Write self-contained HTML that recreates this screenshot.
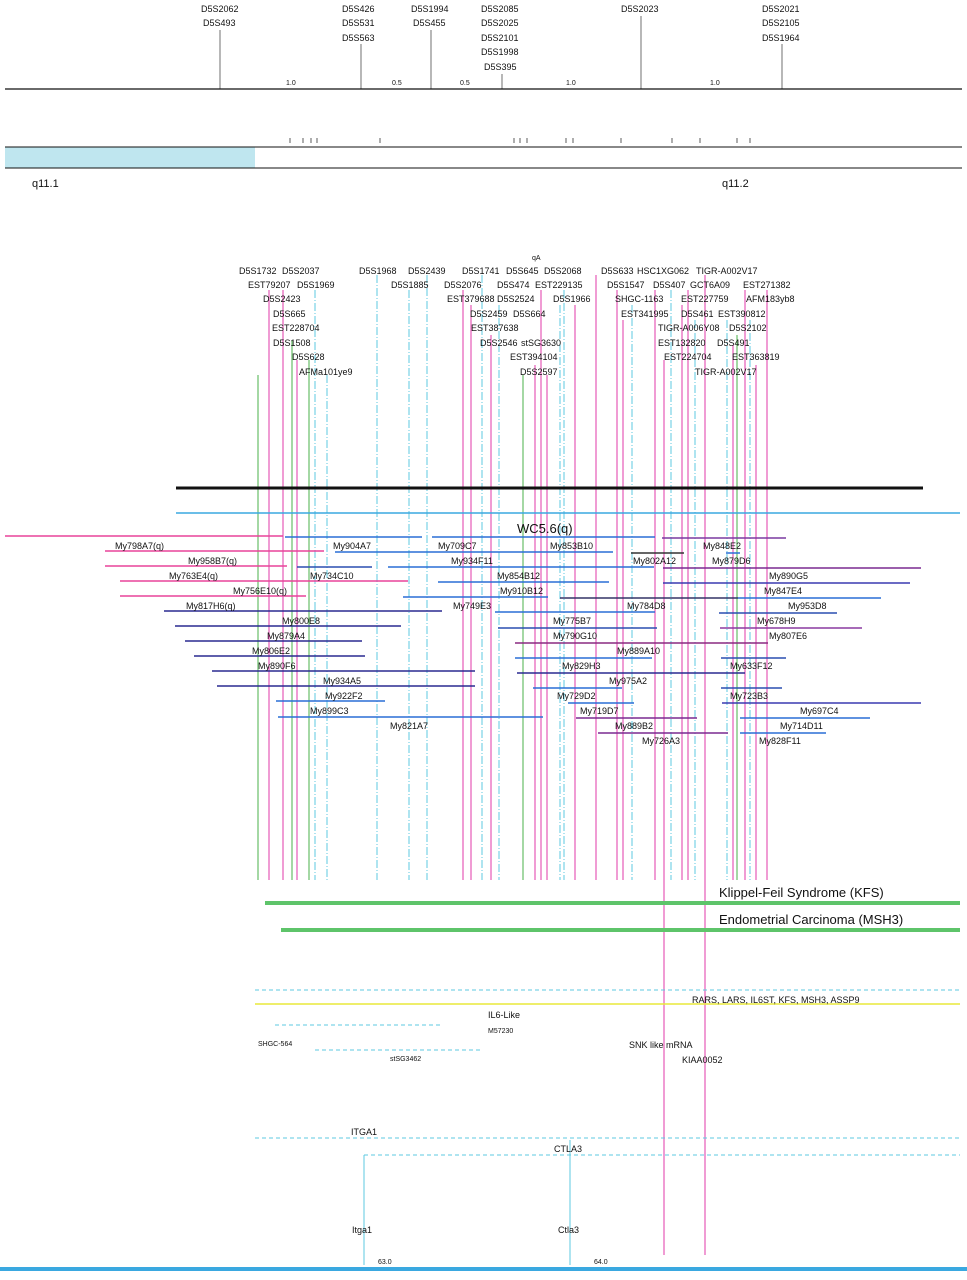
<!DOCTYPE html>
<html><head><meta charset="utf-8"><style>
html,body{margin:0;padding:0;background:#fff;width:967px;height:1280px;overflow:hidden}
svg{display:block}
text{font-family:"Liberation Sans",sans-serif;font-size:9px;fill:#111}
.s{font-size:7px}
.b{font-size:13px}
</style></head><body>
<svg width="967" height="1280" viewBox="0 0 967 1280">
<!-- top map -->
<g>
<text x="201" y="12">D5S2062</text><text x="203" y="26">D5S493</text>
<text x="342" y="12">D5S426</text><text x="342" y="26">D5S531</text><text x="342" y="41">D5S563</text>
<text x="411" y="12">D5S1994</text><text x="413" y="26">D5S455</text>
<text x="481" y="12">D5S2085</text><text x="481" y="26">D5S2025</text><text x="481" y="41">D5S2101</text><text x="481" y="55">D5S1998</text><text x="484" y="70">D5S395</text>
<text x="621" y="12">D5S2023</text>
<text x="762" y="12">D5S2021</text><text x="762" y="26">D5S2105</text><text x="762" y="41">D5S1964</text>
<g stroke="#333" stroke-width="0.7">
<line x1="220" y1="30" x2="220" y2="89"/><line x1="361" y1="44" x2="361" y2="89"/><line x1="431" y1="30" x2="431" y2="89"/><line x1="502" y1="74" x2="502" y2="89"/><line x1="641" y1="16" x2="641" y2="89"/><line x1="782" y1="44" x2="782" y2="89"/>
</g>
<text class="s" x="286" y="85">1.0</text><text class="s" x="392" y="85">0.5</text><text class="s" x="460" y="85">0.5</text><text class="s" x="566" y="85">1.0</text><text class="s" x="710" y="85">1.0</text>
<line x1="5" y1="89" x2="962" y2="89" stroke="#111" stroke-width="1.2"/>
<rect x="5" y="147" width="250" height="21" fill="#bfe6ef"/>
<line x1="5" y1="147" x2="962" y2="147" stroke="#111" stroke-width="1"/>
<line x1="5" y1="168" x2="962" y2="168" stroke="#111" stroke-width="1"/>
<g stroke="#333" stroke-width="0.8">
<line x1="290" y1="138" x2="290" y2="143"/><line x1="303" y1="138" x2="303" y2="143"/><line x1="311" y1="138" x2="311" y2="143"/><line x1="317" y1="138" x2="317" y2="143"/><line x1="380" y1="138" x2="380" y2="143"/><line x1="514" y1="138" x2="514" y2="143"/><line x1="520" y1="138" x2="520" y2="143"/><line x1="527" y1="138" x2="527" y2="143"/><line x1="566" y1="138" x2="566" y2="143"/><line x1="573" y1="138" x2="573" y2="143"/><line x1="621" y1="138" x2="621" y2="143"/><line x1="672" y1="138" x2="672" y2="143"/><line x1="700" y1="138" x2="700" y2="143"/><line x1="737" y1="138" x2="737" y2="143"/><line x1="750" y1="138" x2="750" y2="143"/>
</g>
<text x="32" y="187" style="font-size:11px">q11.1</text>
<text x="722" y="187" style="font-size:11px">q11.2</text>
</g>

<!-- vertical marker lines -->
<g stroke-width="1">
<line x1="258" y1="375" x2="258" y2="880" stroke="#49b04a"/>
<line x1="269" y1="290" x2="269" y2="880" stroke="#e03aa8"/>
<line x1="283" y1="290" x2="283" y2="880" stroke="#e03aa8"/>
<line x1="292" y1="340" x2="292" y2="880" stroke="#49b04a"/>
<line x1="297" y1="360" x2="297" y2="880" stroke="#e03aa8"/>
<line x1="309" y1="360" x2="309" y2="880" stroke="#49b04a"/>
<line x1="315" y1="290" x2="315" y2="880" stroke="#5cc8e0" stroke-dasharray="8 2 1 2"/>
<line x1="327" y1="375" x2="327" y2="880" stroke="#5cc8e0" stroke-dasharray="8 2 1 2"/>
<line x1="377" y1="275" x2="377" y2="880" stroke="#5cc8e0" stroke-dasharray="8 2 1 2"/>
<line x1="409" y1="290" x2="409" y2="880" stroke="#5cc8e0" stroke-dasharray="8 2 1 2"/>
<line x1="427" y1="275" x2="427" y2="880" stroke="#5cc8e0" stroke-dasharray="8 2 1 2"/>
<line x1="463" y1="290" x2="463" y2="880" stroke="#e03aa8"/>
<line x1="471" y1="305" x2="471" y2="880" stroke="#e03aa8"/>
<line x1="482" y1="275" x2="482" y2="880" stroke="#5cc8e0" stroke-dasharray="8 2 1 2"/>
<line x1="491" y1="335" x2="491" y2="880" stroke="#e03aa8"/>
<line x1="499" y1="305" x2="499" y2="880" stroke="#5cc8e0" stroke-dasharray="8 2 1 2"/>
<line x1="523" y1="375" x2="523" y2="880" stroke="#49b04a"/>
<line x1="535" y1="365" x2="535" y2="880" stroke="#e03aa8"/>
<line x1="541" y1="290" x2="541" y2="880" stroke="#e03aa8"/>
<line x1="547" y1="375" x2="547" y2="880" stroke="#e03aa8"/>
<line x1="560" y1="305" x2="560" y2="880" stroke="#5cc8e0" stroke-dasharray="8 2 1 2"/>
<line x1="564" y1="290" x2="564" y2="880" stroke="#5cc8e0" stroke-dasharray="8 2 1 2"/>
<line x1="575" y1="305" x2="575" y2="880" stroke="#e03aa8"/>
<line x1="596" y1="275" x2="596" y2="880" stroke="#e03aa8"/>
<line x1="617" y1="290" x2="617" y2="880" stroke="#e03aa8"/>
<line x1="623" y1="320" x2="623" y2="880" stroke="#e03aa8"/>
<line x1="632" y1="305" x2="632" y2="880" stroke="#5cc8e0" stroke-dasharray="8 2 1 2"/>
<line x1="655" y1="290" x2="655" y2="880" stroke="#e03aa8"/>
<line x1="664" y1="360" x2="664" y2="1255" stroke="#e03aa8"/>
<line x1="671" y1="290" x2="671" y2="880" stroke="#5cc8e0" stroke-dasharray="8 2 1 2"/>
<line x1="682" y1="305" x2="682" y2="880" stroke="#e03aa8"/>
<line x1="688" y1="290" x2="688" y2="880" stroke="#e03aa8"/>
<line x1="695" y1="320" x2="695" y2="880" stroke="#5cc8e0" stroke-dasharray="8 2 1 2"/>
<line x1="705" y1="275" x2="705" y2="1255" stroke="#e03aa8"/>
<line x1="727" y1="320" x2="727" y2="880" stroke="#5cc8e0" stroke-dasharray="8 2 1 2"/>
<line x1="733" y1="345" x2="733" y2="880" stroke="#e03aa8"/>
<line x1="737" y1="335" x2="737" y2="880" stroke="#49b04a"/>
<line x1="745" y1="290" x2="745" y2="880" stroke="#e03aa8"/>
<line x1="750" y1="320" x2="750" y2="880" stroke="#5cc8e0" stroke-dasharray="8 2 1 2"/>
<line x1="756" y1="365" x2="756" y2="880" stroke="#e03aa8"/>
<line x1="767" y1="290" x2="767" y2="880" stroke="#e03aa8"/>
</g>

<!-- marker labels -->
<g>
<text class="s" x="532" y="260">qA</text>
<text x="239" y="274">D5S1732</text><text x="282" y="274">D5S2037</text><text x="359" y="274">D5S1968</text><text x="408" y="274">D5S2439</text><text x="462" y="274">D5S1741</text><text x="506" y="274">D5S645</text><text x="544" y="274">D5S2068</text><text x="601" y="274">D5S633</text><text x="637" y="274">HSC1XG062</text><text x="696" y="274">TIGR-A002V17</text>
<text x="248" y="288">EST79207</text><text x="297" y="288">D5S1969</text><text x="391" y="288">D5S1885</text><text x="444" y="288">D5S2076</text><text x="497" y="288">D5S474</text><text x="535" y="288">EST229135</text><text x="607" y="288">D5S1547</text><text x="653" y="288">D5S407</text><text x="690" y="288">GCT6A09</text><text x="743" y="288">EST271382</text>
<text x="263" y="302">D5S2423</text><text x="447" y="302">EST379688</text><text x="497" y="302">D5S2524</text><text x="553" y="302">D5S1966</text><text x="615" y="302">SHGC-1163</text><text x="681" y="302">EST227759</text><text x="746" y="302">AFM183yb8</text>
<text x="273" y="317">D5S665</text><text x="470" y="317">D5S2459</text><text x="513" y="317">D5S664</text><text x="621" y="317">EST341995</text><text x="681" y="317">D5S461</text><text x="718" y="317">EST390812</text>
<text x="272" y="331">EST228704</text><text x="471" y="331">EST387638</text><text x="658" y="331">TIGR-A006Y08</text><text x="729" y="331">D5S2102</text>
<text x="273" y="346">D5S1508</text><text x="480" y="346">D5S2546</text><text x="521" y="346">stSG3630</text><text x="658" y="346">EST132820</text><text x="717" y="346">D5S491</text>
<text x="292" y="360">D5S628</text><text x="510" y="360">EST394104</text><text x="664" y="360">EST224704</text><text x="732" y="360">EST363819</text>
<text x="299" y="375">AFMa101ye9</text><text x="520" y="375">D5S2597</text><text x="695" y="375">TIGR-A002V17</text>
</g>

<line x1="176" y1="488" x2="923" y2="488" stroke="#111" stroke-width="3"/>
<line x1="176" y1="513" x2="960" y2="513" stroke="#3aa8e0" stroke-width="1.5"/>

<!-- clone bars -->
<g stroke-width="1.5">
<line x1="5" y1="536" x2="283" y2="536" stroke="#e8449a"/>
<line x1="285" y1="537" x2="422" y2="537" stroke="#2a6fd6"/>
<line x1="432" y1="537" x2="655" y2="537" stroke="#2a6fd6"/>
<line x1="662" y1="538" x2="786" y2="538" stroke="#7a3aa0"/>
<line x1="105" y1="551" x2="324" y2="551" stroke="#e8449a"/>
<line x1="335" y1="552" x2="613" y2="552" stroke="#2a6fd6"/>
<line x1="631" y1="553" x2="684" y2="553" stroke="#333"/>
<line x1="726" y1="553" x2="740" y2="553" stroke="#2a6fd6"/>
<line x1="105" y1="566" x2="287" y2="566" stroke="#e8449a"/>
<line x1="297" y1="567" x2="372" y2="567" stroke="#2a4fb0"/>
<line x1="388" y1="567" x2="654" y2="567" stroke="#2a6fd6"/>
<line x1="663" y1="568" x2="921" y2="568" stroke="#7a2a90"/>
<line x1="120" y1="581" x2="408" y2="581" stroke="#e8449a"/>
<line x1="438" y1="582" x2="609" y2="582" stroke="#2a6fd6"/>
<line x1="663" y1="583" x2="910" y2="583" stroke="#3a3ab0"/>
<line x1="120" y1="596" x2="306" y2="596" stroke="#e8449a"/>
<line x1="403" y1="597" x2="548" y2="597" stroke="#2a6fd6"/>
<line x1="560" y1="598" x2="738" y2="598" stroke="#333366"/>
<line x1="738" y1="598" x2="881" y2="598" stroke="#2a6fd6"/>
<line x1="164" y1="611" x2="442" y2="611" stroke="#2a2a90"/>
<line x1="495" y1="612" x2="655" y2="612" stroke="#2a6fd6"/>
<line x1="719" y1="613" x2="837" y2="613" stroke="#2a4fb0"/>
<line x1="175" y1="626" x2="401" y2="626" stroke="#2a2a90"/>
<line x1="498" y1="628" x2="657" y2="628" stroke="#2a4fb0"/>
<line x1="720" y1="628" x2="862" y2="628" stroke="#8a3aa0"/>
<line x1="185" y1="641" x2="362" y2="641" stroke="#2a2a90"/>
<line x1="515" y1="643" x2="768" y2="643" stroke="#8a2a80"/>
<line x1="194" y1="656" x2="365" y2="656" stroke="#2a2a90"/>
<line x1="515" y1="658" x2="652" y2="658" stroke="#2a6fd6"/>
<line x1="721" y1="658" x2="786" y2="658" stroke="#2a4fb0"/>
<line x1="212" y1="671" x2="475" y2="671" stroke="#2a2a90"/>
<line x1="517" y1="673" x2="745" y2="673" stroke="#2a2a90"/>
<line x1="217" y1="686" x2="475" y2="686" stroke="#2a2a90"/>
<line x1="533" y1="688" x2="622" y2="688" stroke="#2a6fd6"/>
<line x1="721" y1="688" x2="782" y2="688" stroke="#2a4fb0"/>
<line x1="276" y1="701" x2="385" y2="701" stroke="#2a6fd6"/>
<line x1="568" y1="703" x2="634" y2="703" stroke="#2a6fd6"/>
<line x1="722" y1="703" x2="921" y2="703" stroke="#3a3ab0"/>
<line x1="278" y1="717" x2="543" y2="717" stroke="#2a6fd6"/>
<line x1="576" y1="718" x2="697" y2="718" stroke="#7a2a90"/>
<line x1="740" y1="718" x2="870" y2="718" stroke="#2a6fd6"/>
<line x1="598" y1="733" x2="728" y2="733" stroke="#7a2a90"/>
<line x1="740" y1="733" x2="826" y2="733" stroke="#2a6fd6"/>
</g>
<g>
<text class="b" x="517" y="533">WC5.6(q)</text>
<text x="115" y="549">My798A7(q)</text><text x="333" y="549">My904A7</text><text x="438" y="549">My709C7</text><text x="550" y="549">My853B10</text><text x="703" y="549">My848E2</text>
<text x="188" y="564">My958B7(q)</text><text x="451" y="564">My934F11</text><text x="633" y="564">My802A12</text><text x="712" y="564">My879D6</text>
<text x="169" y="579">My763E4(q)</text><text x="310" y="579">My734C10</text><text x="497" y="579">My854B12</text><text x="769" y="579">My890G5</text>
<text x="233" y="594">My756E10(q)</text><text x="500" y="594">My910B12</text><text x="764" y="594">My847E4</text>
<text x="186" y="609">My817H6(q)</text><text x="453" y="609">My749E3</text><text x="627" y="609">My784D8</text><text x="788" y="609">My953D8</text>
<text x="282" y="624">My800E8</text><text x="553" y="624">My775B7</text><text x="757" y="624">My678H9</text>
<text x="267" y="639">My879A4</text><text x="553" y="639">My790G10</text><text x="769" y="639">My807E6</text>
<text x="252" y="654">My806E2</text><text x="617" y="654">My889A10</text>
<text x="258" y="669">My890F6</text><text x="562" y="669">My829H3</text><text x="730" y="669">My633F12</text>
<text x="323" y="684">My934A5</text><text x="609" y="684">My975A2</text>
<text x="325" y="699">My922F2</text><text x="557" y="699">My729D2</text><text x="730" y="699">My723B3</text>
<text x="310" y="714">My899C3</text><text x="580" y="714">My719D7</text><text x="800" y="714">My697C4</text>
<text x="390" y="729">My821A7</text><text x="615" y="729">My889B2</text><text x="780" y="729">My714D11</text>
<text x="642" y="744">My726A3</text><text x="759" y="744">My828F11</text>
</g>

<!-- disease bars -->
<rect x="265" y="901" width="695" height="4" fill="#5ec46a"/>
<rect x="281" y="928" width="679" height="4" fill="#5ec46a"/>
<text class="b" x="719" y="897">Klippel-Feil Syndrome (KFS)</text>
<text class="b" x="719" y="924">Endometrial Carcinoma (MSH3)</text>

<line x1="255" y1="990" x2="960" y2="990" stroke="#5cc8e0" stroke-dasharray="4 3"/>
<line x1="255" y1="1004" x2="960" y2="1004" stroke="#e8e83a" stroke-width="1.5"/>
<text x="692" y="1003">RARS, LARS, IL6ST, KFS, MSH3, ASSP9</text>
<line x1="275" y1="1025" x2="440" y2="1025" stroke="#5cc8e0" stroke-dasharray="4 3"/>
<line x1="315" y1="1050" x2="480" y2="1050" stroke="#5cc8e0" stroke-dasharray="4 3"/>
<text x="488" y="1018">IL6-Like</text><text class="s" x="488" y="1033">M57230</text>
<text class="s" x="258" y="1046">SHGC-564</text><text class="s" x="390" y="1061">stSG3462</text>
<text x="629" y="1048">SNK like mRNA</text><text x="682" y="1063">KIAA0052</text>

<line x1="255" y1="1138" x2="960" y2="1138" stroke="#5cc8e0" stroke-dasharray="4 3"/>
<line x1="364" y1="1155" x2="960" y2="1155" stroke="#5cc8e0" stroke-dasharray="4 3"/>
<line x1="364" y1="1155" x2="364" y2="1265" stroke="#5cc8e0"/>
<line x1="570" y1="1140" x2="570" y2="1265" stroke="#5cc8e0"/>
<text x="351" y="1135">ITGA1</text><text x="554" y="1152">CTLA3</text>
<text x="352" y="1233">Itga1</text><text x="558" y="1233">Ctla3</text>
<text class="s" x="378" y="1264">63.0</text><text class="s" x="594" y="1264">64.0</text>
<rect x="0" y="1267" width="967" height="4" fill="#3aa8e0"/>
</svg>
</body></html>
